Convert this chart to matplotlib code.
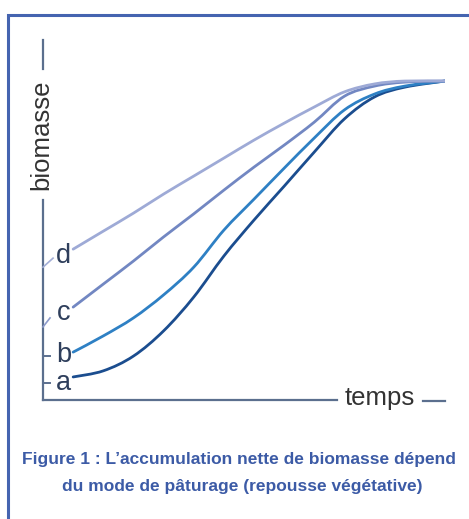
import matplotlib
matplotlib.use("Agg")
import numpy as np
import matplotlib.pyplot as plt
from matplotlib.path import Path
from matplotlib.patches import PathPatch

# Données (temps 0-100, biomasse 0-100, unités arbitraires)
temps = [7.5, 15, 22.5, 30, 37.5, 45, 52.5, 60, 67.5, 75, 82.5, 90, 100]
bio_a = [6.4, 8.1, 12.2, 19.2, 28.6, 40.0, 50.0, 59.4, 68.9, 78.1, 84.2, 86.9, 88.6]
bio_b = [13.3, 17.8, 22.8, 29.2, 36.9, 47.2, 55.8, 64.4, 72.8, 80.6, 85.0, 87.2, 88.6]
bio_c = [25.8, 32.2, 38.6, 45.3, 51.7, 58.3, 64.7, 70.8, 77.2, 84.4, 87.2, 88.3, 88.6]
bio_d = [41.9, 46.9, 51.9, 57.2, 62.2, 67.2, 72.2, 76.9, 81.4, 85.6, 87.8, 88.6, 88.6]
noms = ["a", "b", "c", "d"]
couleurs = ["#1b4d8f", "#2e80c4", "#7287c2", "#9eaad6"]

titre_1 = "Figure 1 : L\u2019accumulation nette de biomasse dépend"
titre_2 = "du mode de pâturage (repousse végétative)"

axe_col = "#5b6f8e"
texte_col = "#333333"
bleu_titre = "#3c5ba6"


def courbe_lisse(ax, x, y, **kw):
    # trace une courbe de Bézier passant par les points lus (Catmull-Rom)
    p = np.column_stack([x, y]).astype(float)
    verts, codes = [p[0]], [Path.MOVETO]
    n = len(p)
    for i in range(n - 1):
        p0 = p[i - 1] if i > 0 else p[i]
        p3 = p[i + 2] if i + 2 < n else p[i + 1]
        c1 = p[i] + (p[i + 1] - p0) / 6
        c2 = p[i + 1] - (p3 - p[i]) / 6
        verts += [c1, c2, p[i + 1]]
        codes += [Path.CURVE4] * 3
    ax.add_patch(PathPatch(Path(verts, codes), fill=False, **kw))


fig = plt.figure(figsize=(4.69, 5.19), dpi=100)
fig.patch.set_facecolor("white")

# cadre bleu (ouvert à droite et en bas)
cadre = fig.add_axes([0, 0, 1, 1])
cadre.set_xlim(0, 469)
cadre.set_ylim(519, 0)
cadre.axis("off")
cadre.plot([8, 8, 469], [519, 15, 15], color="#4564b0", lw=2.2, solid_joinstyle="miter")

ax = fig.add_axes([43 / 469, 1 - 400 / 519, 402 / 469, 360 / 519])
ax.set_xlim(0, 100)
ax.set_ylim(0, 100)
ax.axis("off")

for serie, c in zip([bio_a, bio_b, bio_c, bio_d], couleurs):
    courbe_lisse(ax, temps, serie, edgecolor=c, lw=2.0, capstyle="round")

# axes dessinés à la main, avec les étiquettes intégrées
tr = ax.transAxes
ax.plot([0, 0], [0, 0.556], color=axe_col, lw=1.6, transform=tr, clip_on=False)
ax.plot([0, 0], [0.919, 1.0], color=axe_col, lw=1.6, transform=tr, clip_on=False)
ax.plot([0, 0.731], [0, 0], color=axe_col, lw=1.6, transform=tr, clip_on=False)
ax.plot([0.945, 1.0], [-0.004, -0.004], color=axe_col, lw=1.6, transform=tr, clip_on=False)
ax.text(-0.003, 0.736, "biomasse", rotation=90, ha="center", va="center",
        fontsize=18.5, family="Liberation Sans", color=texte_col, transform=tr)
ax.text(0.838, -0.014, "temps", ha="center", va="baseline",
        fontsize=18.5, family="Liberation Sans", color=texte_col, transform=tr)

# repères des courbes
ax.plot([0, 1.75], [4.7, 4.7], color=axe_col, lw=1.4, clip_on=False)
ax.plot([0, 1.75], [12.2, 12.2], color=axe_col, lw=1.4, clip_on=False)
ax.plot([0, 1.75], [20.3, 22.8], color="#8d9bcb", lw=1.2, clip_on=False)
ax.plot([0, 2.5], [36.9, 39.4], color="#a3aed6", lw=1.2, clip_on=False)
for nom, yb in zip(noms, [2.8, 10.6, 22.2, 38.1]):
    ax.text(5.1, yb, nom, ha="center", va="baseline", fontsize=19.5,
            family="Liberation Sans", color="#2f3f5c")

t1 = fig.text(239 / 469, 1 - 464 / 519, titre_1, ha="center", va="baseline",
              fontsize=15, fontweight="bold", family="Liberation Sans",
              color=bleu_titre)
t2 = fig.text(242 / 469, 1 - 491 / 519, titre_2, ha="center", va="baseline",
              fontsize=15, fontweight="bold", family="Liberation Sans",
              color=bleu_titre)

# ajuster la taille du titre pour occuper la même largeur que l'original
fig.canvas.draw()
largeur = t1.get_window_extent().width
taille = min(16.5, 15 * 436 / largeur)
t1.set_fontsize(taille)
t2.set_fontsize(taille)

fig.savefig("out.png", dpi=100)
